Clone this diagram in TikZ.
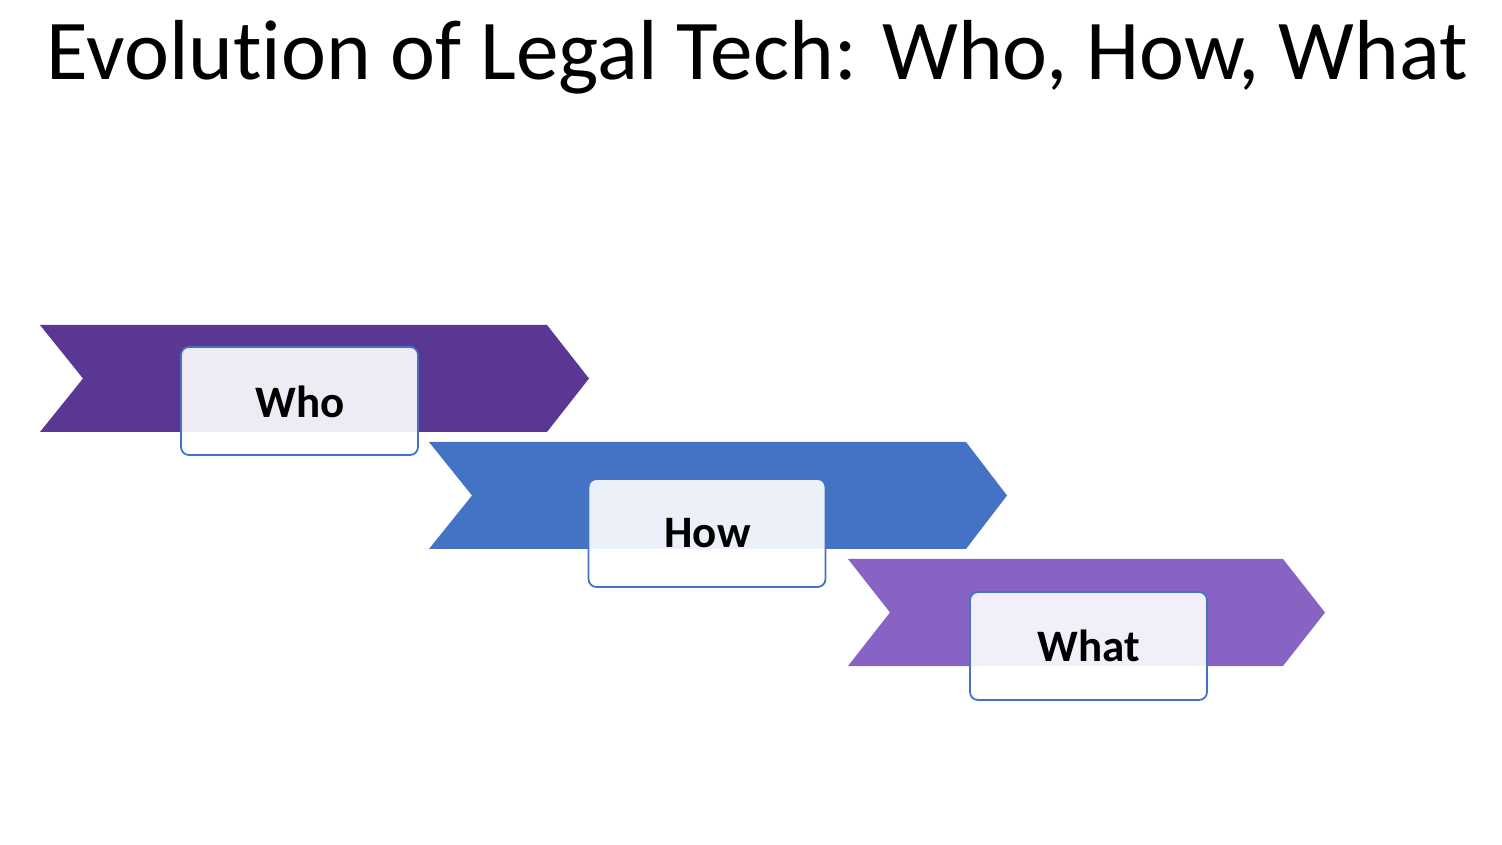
\documentclass[tikz,border=0pt]{standalone}
\usepackage{fontspec}
\setmainfont[RawFeature=-liga]{Carlito}
\definecolor{cpurple}{HTML}{5A3793}
\definecolor{cblue}{HTML}{4472C4}
\definecolor{clilac}{HTML}{8763C4}
\begin{document}
\begin{tikzpicture}[x=1pt,y=1pt,
  box/.style={draw=cblue, line width=1.8pt, rounded corners=8pt, fill=white, fill opacity=0.9,
    minimum width=237pt, minimum height=108pt, inner sep=0pt},
  lbl/.style={anchor=base, font=\fontsize{45}{50}\selectfont\bfseries, inner sep=0pt},
  ttl/.style={anchor=base, font=\fontsize{85.2}{96}\selectfont, inner sep=0pt}]
\useasboundingbox (0,0) rectangle (1502,844);
\fill[white] (0,0) rectangle (1502,844);
\node[ttl] (title) at (757.5,764) {Evolution of Legal Tech: Who, How, What};
% chevron 1
\fill[cpurple] (40,519) -- (547,519) -- (589,465.5) -- (547,412) -- (40,412) -- (83,465.5) -- cycle;
\node[box] (b1) at (299.5,443) {};
\node[lbl] (t1) at (300,426) {Who};
% chevron 2
\fill[cblue] (429,402) -- (966,402) -- (1007,348.5) -- (966,295) -- (429,295) -- (472,348.5) -- cycle;
\node[box] (b2) at (707,311) {};
\node[lbl] (t2) at (707.5,296) {How};
% chevron 3
\fill[clilac] (848,285) -- (1283,285) -- (1325,231.5) -- (1283,178) -- (848,178) -- (890,231.5) -- cycle;
\node[box] (b3) at (1088.5,198) {};
\node[lbl] (t3) at (1088.5,182.5) {What};
\end{tikzpicture}
\end{document}
